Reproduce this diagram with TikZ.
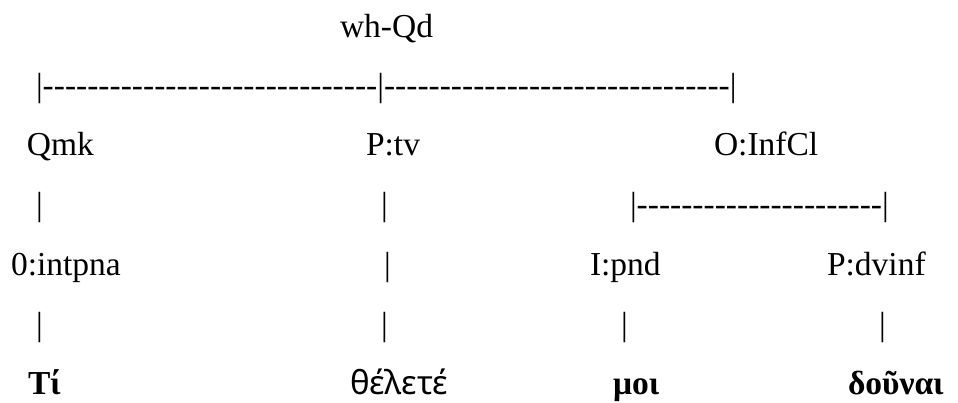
\documentclass[tikz,border=0pt]{standalone}
\usepackage{fontspec}
\setmainfont{Liberation Serif}
\newfontfamily\greeksans{Noto Sans}
\newcommand\dashrun[1]{\foreach \i in {1,...,#1}{-\kern0pt}}
\begin{document}
\begin{tikzpicture}[x=1pt,y=-1pt,
  txt/.style={anchor=base west,inner sep=0pt,outer sep=0pt,font=\fontsize{33.5}{40}\selectfont},
  grk/.style={txt,font=\fontsize{33.5}{40}\selectfont\bfseries},
  grks/.style={txt,font=\fontsize{33}{40}\selectfont\greeksans}]
\useasboundingbox (0,0) rectangle (958,402);
% row 0
\node[txt] (whqd) at (340,37) {wh-Qd};
% row 1
\node[txt] (br1) at (36,96) {|\dashrun{30}|\dashrun{31}|};
% row 2
\node[txt] (qmk) at (27,155) {Qmk};
\node[txt] (ptv) at (366,155) {P:tv};
\node[txt] (oinf) at (714,155) {O:InfCl};
% row 3
\node[txt] (v31) at (36,215) {|};
\node[txt] (v32) at (381,215) {|};
\node[txt] (br3) at (630,215) {|\dashrun{22}|};
% row 4
\node[txt] (intp) at (11,275) {0:intpna};
\node[txt] (v42) at (384,275) {|};
\node[txt] (ipnd) at (590,275) {I:pnd};
\node[txt] (pdv) at (827,275) {P:dvinf};
% row 5
\node[txt] (v51) at (36,335) {|};
\node[txt] (v52) at (381,335) {|};
\node[txt] (v53) at (621,335) {|};
\node[txt] (v54) at (879,335) {|};
% row 6
\node[grk] (w1) at (28,394) {Tί};
\node[grks] (w2) at (350,394) {θέλετέ};
\node[grk] (w3) at (613,394) {μοι};
\node[grk] (w4) at (848,394) {δοῦναι};
\end{tikzpicture}
\end{document}
